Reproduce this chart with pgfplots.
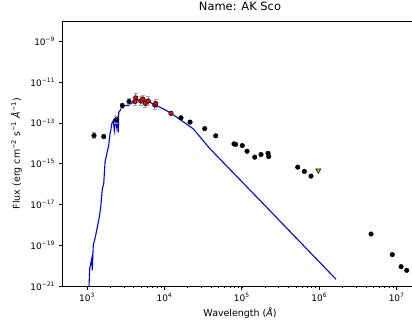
\documentclass[border=0pt]{standalone}
\usepackage{fontspec}
\setmainfont{DejaVu Sans}
\usepackage{pgfplots}
\pgfplotsset{compat=1.18}
\usepackage{pgfplotstable}

\pgfplotstableread{
x y ep em
1231 2.40e-14 0.41 0.29
1644 2.14e-14 0.25 0.2
2371 1.41e-13 0.41 0.29
2860 7.08e-13 0.3 0.23
3490 1.12e-12 0.41 0.29
}\blackerr

\pgfplotstableread{
x y
16370 1.78e-13
21420 1.10e-13
33190 5.25e-14
46030 2.34e-14
79250 9.33e-15
83370 8.91e-15
101400 7.76e-15
116700 4.07e-15
146800 2.09e-15
177000 2.82e-15
218100 3.24e-15
222800 2.24e-15
527200 6.76e-16
642200 4.17e-16
783600 2.45e-16
4.67e6 3.55e-19
8.79e6 3.47e-20
1.14e7 8.91e-21
1.35e7 5.89e-21
}\blackpts

\pgfplotstableread{
x y ep em
4256 1.70e-12 0.58 0.37
4170 1.12e-12 0.58 0.37
4940 1.20e-12 0.58 0.37
5295 1.45e-12 0.58 0.37
5665 9.12e-13 0.58 0.37
6194 1.20e-12 0.58 0.37
7499 7.59e-13 0.58 0.37
7727 8.91e-13 0.58 0.37
12160 2.95e-13 0.2 0.15
}\redpts

\pgfplotstableread{
x y
1054 4.9e-22
1084 7.08e-21
1151 2.19e-20
1169 5.89e-21
1205 9.77e-20
1294 3.02e-19
1442 2.40e-18
1503 7.41e-18
1578 5.89e-17
1644 1.02e-16
1710 1.17e-15
1799 3.02e-15
1905 7.76e-15
1982 2.88e-14
2042 5.13e-14
2084 8.91e-14
2188 1.29e-13
2254 4.17e-14
2350 1.58e-13
2421 6.17e-14
2495 2.29e-13
2535 3.47e-14
2570 3.31e-13
2667 3.98e-13
2805 5.89e-13
3097 7.08e-13
3420 7.08e-13
3784 9.12e-13
3963 1.23e-12
4603 1.35e-12
5333 1.23e-12
6516 1.02e-12
7962 7.08e-13
10720 3.98e-13
14420 1.91e-13
23600 5.13e-14
38820 5.37e-15
171800 1.58e-17
1.648e6 2.14e-21
}\model

\newcommand{\tp}[1]{10\textsuperscript{#1}}

\begin{document}
\begin{tikzpicture}
\useasboundingbox (-62bp,-43bp) rectangle (350bp,286bp);
\begin{axis}[
  at={(0,0)}, anchor=south west,
  scale only axis,
  width=356bp, height=265bp,
  xmode=log, ymode=log,
  xmin=475.3, xmax=1.888e7,
  ymin=1e-21, ymax=1e-8,
  axis line style={line width=0.8bp},
  tick align=outside,
  tick pos=left,
  major tick length=3.5bp,
  minor tick length=2bp,
  every tick/.style={black, line width=0.8bp},
  minor tick style={line width=0.6bp},
  yminorticks=false,
  xtick={1e3,1e4,1e5,1e6,1e7},
  xticklabels={\tp{3},\tp{4},\tp{5},\tp{6},\tp{7}},
  ytick={1e-21,1e-19,1e-17,1e-15,1e-13,1e-11,1e-9},
  yticklabels={\tp{−21},\tp{−19},\tp{−17},\tp{−15},\tp{−13},\tp{−11},\tp{−9}},
  ticklabel style={font=\fontsize{9}{10}\selectfont},
  title={Name: AK Sco},
  title style={font=\fontsize{11.5}{13}\selectfont, at={(axis description cs:0.5,1)}, anchor=base, yshift=5bp},
  xlabel={Wavelength (\textit{Å})},
  xlabel style={font=\fontsize{9.5}{11}\selectfont, at={(axis description cs:0.5,0)}, anchor=base, yshift=-30bp},
  ylabel={Flux (erg cm\textsuperscript{−2} s\textsuperscript{−1} \textit{Å}\textsuperscript{−1})},
  ylabel style={font=\fontsize{9.5}{11}\selectfont, at={(axis description cs:-0.118,0.5)}, anchor=base},
  clip=true,
]
\addplot[blue, line width=1.1bp, mark=none] table[x=x,y=y] {\model};
\addplot[only marks, mark=*, mark size=2.3bp, black,
  error bars/.cd, y dir=both, y explicit relative,
  error bar style={gray!70, line width=0.8bp},
  error mark options={gray!70, rotate=90, mark size=2bp, line width=0.8bp}]
  table[x=x,y=y,y error plus=ep,y error minus=em] {\blackerr};
\addplot[only marks, mark=*, mark size=2.3bp, black] table[x=x,y=y] {\blackpts};
\addplot[only marks, mark=*, mark size=2.2bp, draw=black, fill=red, line width=0.6bp,
  error bars/.cd, y dir=both, y explicit relative,
  error bar style={gray!70, line width=0.8bp},
  error mark options={gray!70, rotate=90, mark size=2bp, line width=0.8bp}]
  table[x=x,y=y,y error plus=ep,y error minus=em] {\redpts};
\addplot[only marks, mark=triangle*, mark size=2.8bp, mark options={rotate=180, draw=black, fill={rgb,255:red,204;green,204;blue,0}, line width=0.6bp}]
  coordinates {(972700,4.68e-16)};
\end{axis}
\end{tikzpicture}
\end{document}
